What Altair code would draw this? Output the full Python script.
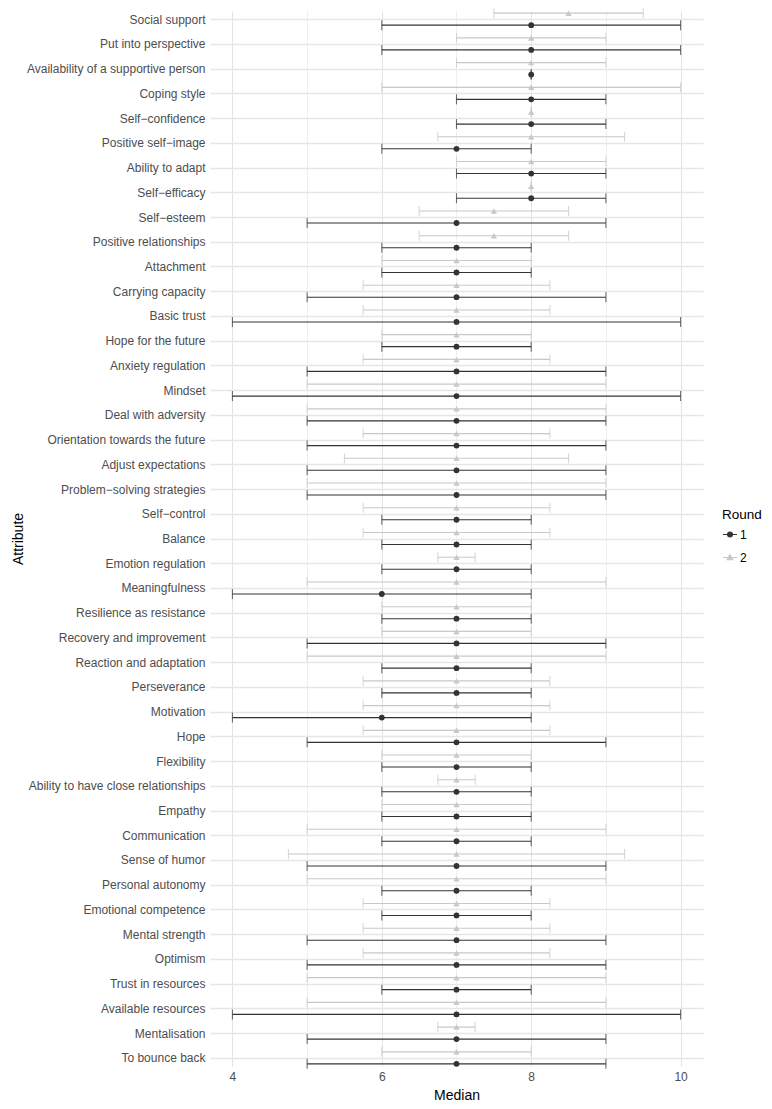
import altair as alt
import pandas as pd

attributes = [
    "Social support", "Put into perspective", "Availability of a supportive person",
    "Coping style", "Self−confidence", "Positive self−image", "Ability to adapt",
    "Self−efficacy", "Self−esteem ", "Positive relationships", "Attachment",
    "Carrying capacity", "Basic trust", "Hope for the future", "Anxiety regulation",
    "Mindset", "Deal with adversity ", "Orientation towards the future ",
    "Adjust expectations", "Problem−solving strategies", "Self−control", "Balance",
    "Emotion regulation", "Meaningfulness", "Resilience as resistance",
    "Recovery and improvement", "Reaction and adaptation", "Perseverance",
    "Motivation", "Hope", "Flexibility", "Ability to have close relationships ",
    "Empathy", "Communication", "Sense of humor", "Personal autonomy",
    "Emotional competence", "Mental strength", "Optimism", "Trust in resources",
    "Available resources ", "Mentalisation ", "To bounce back",
]

r1_med = [8, 8, 8, 8, 8, 7, 8, 8, 7, 7, 7, 7, 7, 7, 7, 7, 7, 7, 7, 7, 7, 7,
          7, 6, 7, 7, 7, 7, 6, 7, 7, 7, 7, 7, 7, 7, 7, 7, 7, 7, 7, 7, 7]
r1_lo = [6, 6, 8, 7, 7, 6, 7, 7, 5, 6, 6, 5, 4, 6, 5, 4, 5, 5, 5, 5, 6, 6,
         6, 4, 6, 5, 6, 6, 4, 5, 6, 6, 6, 6, 5, 6, 6, 5, 5, 6, 4, 5, 5]
r1_hi = [10, 10, 8, 9, 9, 8, 9, 9, 9, 8, 8, 9, 10, 8, 9, 10, 9, 9, 9, 9, 8, 8,
         8, 8, 8, 9, 8, 8, 8, 9, 8, 8, 8, 8, 9, 8, 8, 9, 9, 8, 10, 9, 9]

r2_med = [8.5, 8, 8, 8, 8, 8, 8, 8, 7.5, 7.5, 7, 7, 7, 7, 7, 7, 7, 7, 7, 7, 7, 7,
          7, 7, 7, 7, 7, 7, 7, 7, 7, 7, 7, 7, 7, 7, 7, 7, 7, 7, 7, 7, 7]
r2_lo = [7.5, 7, 7, 6, 8, 6.75, 7, 8, 6.5, 6.5, 6, 5.75, 5.75, 6, 5.75, 5, 5, 5.75,
         5.5, 5, 5.75, 5.75, 6.75, 5, 6, 6, 5, 5.75, 5.75, 5.75, 6, 6.75, 6, 5,
         4.75, 5, 5.75, 5.75, 5.75, 5, 5, 6.75, 6]
r2_hi = [9.5, 9, 9, 10, 8, 9.25, 9, 8, 8.5, 8.5, 8, 8.25, 8.25, 8, 8.25, 9, 9, 8.25,
         8.5, 9, 8.25, 8.25, 7.25, 9, 8, 8, 9, 8.25, 8.25, 8.25, 8, 7.25, 8, 9,
         9.25, 9, 8.25, 8.25, 8.25, 9, 9, 7.25, 8]

rounds = ["1", "2"]
colors = ["#333333", "#c8c8c8"]
x_values = [4, 5, 6, 7, 8, 9, 10]

rows = []
for i, a in enumerate(attributes):
    rows.append({"Attribute": a, "Round": "1", "med": r1_med[i], "lo": r1_lo[i], "hi": r1_hi[i]})
    rows.append({"Attribute": a, "Round": "2", "med": r2_med[i], "lo": r2_lo[i], "hi": r2_hi[i]})
df = pd.DataFrame(rows)

W, H = 493, 1055
PAD_L, PAD_T, PAD_B = 202, 3, 40
PAD_R = 756 - PAD_L - W
FONT = "Liberation Sans"

x_scale = alt.Scale(domain=[3.7, 10.3], nice=False, zero=False)
y_scale = alt.Scale(type="point", padding=0.33, domain=attributes)

x_axis = alt.Axis(
    values=x_values, labelExpr="datum.value % 2 == 0 ? datum.label : ''",
    title="Median", domain=False, ticks=False, labelFontSize=12, labelColor="#4d4d4d",
    titleFontSize=14, titleFontWeight="normal", titleColor="#000000", labelPadding=5,
    titlePadding=6, grid=True,
    gridColor={"condition": {"test": "datum.value % 2 == 1", "value": "#efefef"}, "value": "#e3e3e3"},
    gridWidth=1,
)
y_axis = alt.Axis(
    title="Attribute", domain=False, ticks=False, labelFontSize=12, labelColor="#4d4d4d",
    titleFontSize=14, titleFontWeight="normal", titleColor="#000000", labelPadding=5,
    grid=True, gridColor="#e6e6e6", gridWidth=1.6, labelLimit=300, titlePadding=1,
)

base = alt.Chart(df)
offsets = {"1": 6, "2": -6}
shapes = {"1": "circle", "2": "triangle-up"}
sizes = {"1": 34, "2": 40}

layers = []
for r, col in zip(rounds, colors):
    d = base.transform_filter(f"datum.Round == '{r}'")
    off = offsets[r]
    yenc = alt.Y("Attribute:N", scale=y_scale, sort=attributes, axis=y_axis)
    rule = d.mark_rule(color=col, strokeWidth=1.1).encode(
        x=alt.X("lo:Q", scale=x_scale, axis=x_axis),
        x2="hi:Q",
        y=yenc,
        yOffset=alt.value(off),
    )
    cap_lo = d.mark_tick(color=col, thickness=1.1, size=10, orient="vertical").encode(
        x=alt.X("lo:Q", scale=x_scale, axis=x_axis),
        y=yenc,
        yOffset=alt.value(off),
    )
    cap_hi = d.mark_tick(color=col, thickness=1.1, size=10, orient="vertical").encode(
        x=alt.X("hi:Q", scale=x_scale, axis=x_axis),
        y=yenc,
        yOffset=alt.value(off),
    )
    pt = d.mark_point(filled=True, color=col, opacity=1, shape=shapes[r],
                      size=sizes[r]).encode(
        x=alt.X("med:Q", scale=x_scale, axis=x_axis),
        y=yenc,
        yOffset=alt.value(off),
    )
    layers += [rule, cap_lo, cap_hi, pt]

path1 = "M-1,0L1,0M0.35,0A0.35,0.35,0,1,1,-0.35,0A0.35,0.35,0,1,1,0.35,0Z"
path2 = "M-1,0L1,0M0,-0.4L0.42,0.33L-0.42,0.33Z"

legend = alt.Legend(
    title="Round", orient="none", legendX=W + 19, legendY=497,
    titleFontSize=13.5, titleFontWeight="normal", titleColor="#000000",
    labelFontSize=12, labelColor="#000000", symbolSize=196, symbolStrokeWidth=1.1,
    rowPadding=9, titlePadding=5, labelOffset=2,
)
legend_layer = base.transform_filter("false").mark_point(filled=True, opacity=1).encode(
    color=alt.Color("Round:N", scale=alt.Scale(domain=rounds, range=colors), legend=legend),
    stroke=alt.Stroke("Round:N", scale=alt.Scale(domain=rounds, range=colors), legend=legend),
    shape=alt.Shape("Round:N", scale=alt.Scale(domain=rounds, range=[path1, path2]), legend=legend),
)

chart = alt.layer(*layers, legend_layer).properties(
    width=W, height=H,
    autosize=alt.AutoSizeParams(type="none"),
    padding={"left": PAD_L, "top": PAD_T, "right": PAD_R, "bottom": PAD_B},
).configure(
    font=FONT,
    view=alt.ViewConfig(stroke=None),
)

chart.save("out.html", embed_options={"renderer": "svg", "actions": False})
